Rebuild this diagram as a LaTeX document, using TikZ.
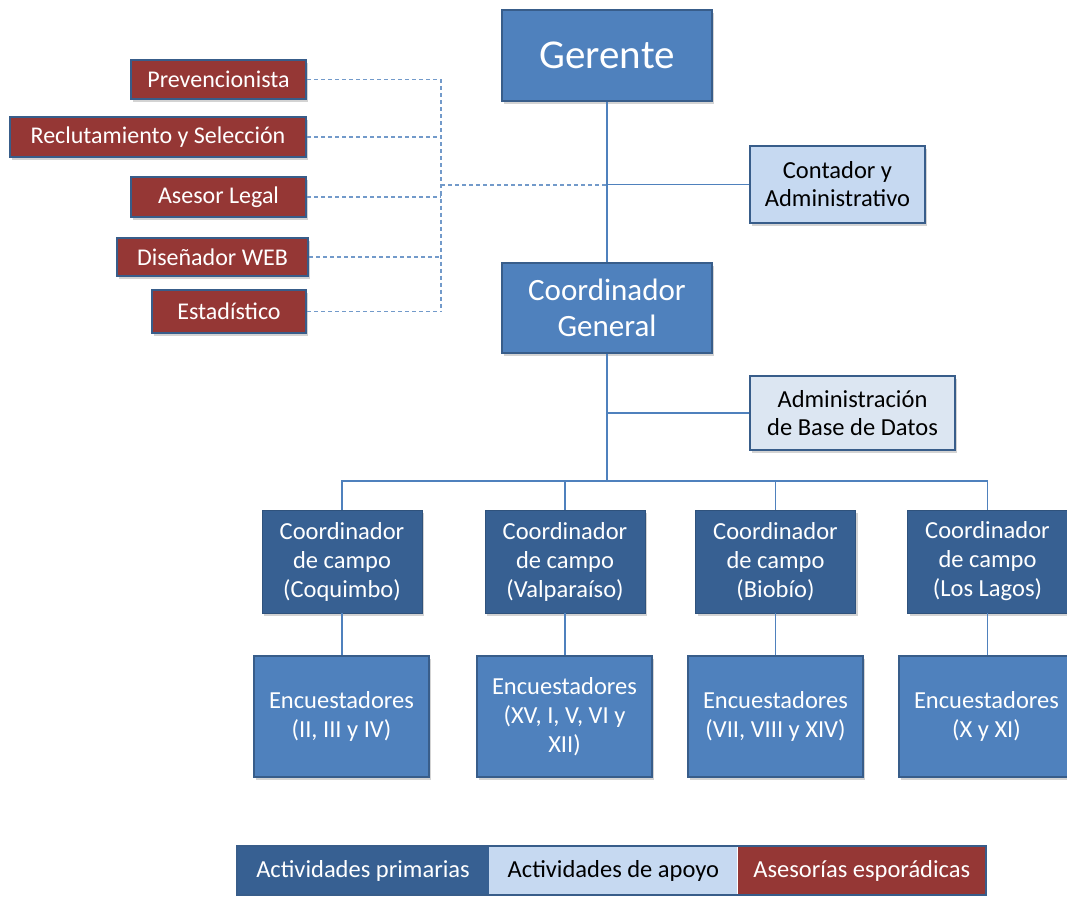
\documentclass[tikz,border=0pt]{standalone}
\usepackage{fontspec}
\setmainfont{Carlito}
\usetikzlibrary{shadows,positioning}

\definecolor{mainblue}{HTML}{4F81BD}
\definecolor{edgeblue}{HTML}{385D8A}
\definecolor{darkblue}{HTML}{376092}
\definecolor{paleblue}{HTML}{C6D9F1}
\definecolor{lightblue}{HTML}{DCE6F2}
\definecolor{darkred}{HTML}{953735}

\begin{document}
\begin{tikzpicture}[x=1pt,y=-1pt,
  shade/.style={drop shadow={shadow xshift=2pt,shadow yshift=-3pt,opacity=0.35}},
  primary/.style={shade, draw=edgeblue, line width=2.5pt, fill=mainblue, text=white, align=center, inner sep=0pt},
  support/.style={shade, draw=edgeblue, line width=2.5pt, fill=paleblue, text=black, align=center, inner sep=0pt, font=\fontsize{24.5}{28}\selectfont},
  advice/.style={shade, draw=edgeblue, line width=2.5pt, fill=darkred, text=white, align=center, inner sep=0pt, minimum height=40, font=\fontsize{24}{28}\selectfont},
  campo/.style={shade, draw=darkblue!85!black, line width=0.6pt, fill=darkblue, text=white, align=center, inner sep=0pt, minimum width=160, minimum height=103, font=\fontsize{24.5}{29}\selectfont},
  team/.style={primary, minimum width=175, minimum height=121, font=\fontsize{24.5}{29}\selectfont},
  legend/.style={inner sep=0pt, minimum height=49, font=\fontsize{24.5}{28}\selectfont},
  link/.style={mainblue, line width=1.2pt},
  dlink/.style={mainblue!80, line width=1.2pt, dash pattern=on 4pt off 3pt}]

  \useasboundingbox (0,0) rectangle (1067,896);

  % main line
  \node[primary, minimum width=210, minimum height=91, font=\fontsize{41}{48}\selectfont] (gerente) at (607,55.5) {Gerente};
  \node[primary, minimum width=210, minimum height=90, font=\fontsize{31}{36}\selectfont] (cgeneral) at (607,308) {Coordinador\\General};

  % support
  \node[support, minimum width=175, minimum height=77] (contador) at (837.5,184.5) {Contador y\\Administrativo};
  \node[support, fill=lightblue, minimum width=205, minimum height=74] (basedatos) at (852.5,413) {Administración\\de Base de Datos};

  % occasional advice
  \node[advice, minimum width=175, minimum height=39] (prev) at (218.5,79.5) {Prevencionista};
  \node[advice, minimum width=296] (reclut) at (158,137) {Reclutamiento y Selección};
  \node[advice, minimum width=175] (legal) at (218.5,197) {Asesor Legal};
  \node[advice, minimum width=191, minimum height=38] (web) at (212.5,257) {Diseñador WEB};
  \node[advice, minimum width=154, minimum height=43] (estad) at (229,311.5) {Estadístico};

  % field coordinators and teams
  \node[campo] (cq) at (342,561.5) {Coordinador\\de campo\\(Coquimbo)};
  \node[campo] (cv) at (565,561.5) {Coordinador\\de campo\\(Valparaíso)};
  \node[campo] (cb) at (775.5,561.5) {Coordinador\\de campo\\(Biobío)};
  \node[campo] (cl) at (987.5,561.5) {Coordinador\\de campo\\(Los Lagos)};

  \node[team] (eq) at (341.5,716.5) {Encuestadores\\(II, III y IV)};
  \node[team] (ev) at (564.5,716.5) {Encuestadores\\(XV, I, V, VI y\\XII)};
  \node[team] (eb) at (775.5,716.5) {Encuestadores\\(VII, VIII y XIV)};
  \node[team] (el) at (986.5,716.5) {Encuestadores\\(X y XI)};

  % connectors
  \coordinate (bus) at (441,185);
  \coordinate (split) at (607,481);
  \draw[link] (gerente.south) -- (cgeneral.north);
  \draw[link] (contador.west) -- (contador.west -| gerente.south);
  \draw[link] (cgeneral.south) -- (split);
  \draw[link] (basedatos.west) -- (basedatos.west -| cgeneral.south);
  \foreach \c/\e in {cq/eq,cv/ev,cb/eb,cl/el}{
    \draw[link] (split) -| (\c.north);
    \draw[link] (\c.south) -- (\c.south |- \e.north);
  }
  \foreach \a in {prev,reclut,legal,web,estad}
    \draw[dlink] (\a.east) -- (\a.east -| bus);
  \draw[dlink] (prev.east -| bus) -- (estad.east -| bus);
  \draw[dlink] (bus) -- (bus -| gerente.south);

  % legend
  \node[legend, fill=darkblue, text=white, minimum width=252] (leg1) at (363,870.5) {Actividades primarias};
  \node[legend, fill=paleblue, text=black, minimum width=248, right=0pt of leg1] (leg2) {Actividades de apoyo};
  \node[legend, fill=darkred, text=white, minimum width=248, right=0pt of leg2] (leg3) {Asesorías esporádicas};
  \draw[edgeblue, line width=2pt] (leg1.north west) rectangle (leg3.south east);

\end{tikzpicture}
\end{document}
